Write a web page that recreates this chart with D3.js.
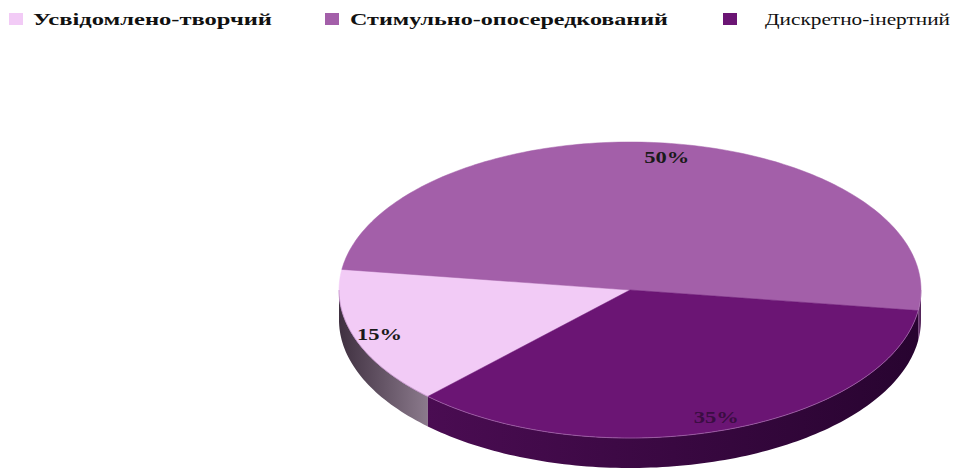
<!DOCTYPE html>
<html>
<head>
<meta charset="utf-8">
<script src="https://d3js.org/d3.v7.min.js"></script>
<style>
  body { margin: 0; background: #fff; }
  text { font-family: "Liberation Serif", "DejaVu Serif", serif; }
</style>
</head>
<body>
<script>
  // data
  const categories = ["Усвідомлено-творчий", "Стимульно-опосередкований", "Дискретно-інертний"];
  const values = [15, 50, 35];
  const labels = ["15%", "50%", "35%"];

  const topColors = ["#f2cbf6", "#a35fa9", "#6b1574"];
  const sideLight = ["#8b7a8c", "#7a3f80", "#4a0c52"];
  const sideDark = ["#3f3040", "#4c1f52", "#280430"];
  const labelColors = ["#1a1a1a", "#1a1a1a", "#3a0d42"];

  const width = 953, height = 475;
  const cx = 630, cy = 290, rx = 291, ry = 148, depth = 30;

  const svg = d3.select("body").append("svg")
    .attr("width", width)
    .attr("height", height);

  const defs = svg.append("defs");

  // legend (the original is stretched horizontally, so text widths are fixed)
  const legendX = [9, 325, 723];
  const legendTextX = [33, 350, 765];
  const legendTextW = [239, 318, 185];
  const legendBold = [true, true, false];
  const legend = svg.append("g");
  categories.forEach((c, i) => {
    legend.append("rect")
      .attr("x", legendX[i]).attr("y", 13)
      .attr("width", 14).attr("height", 12)
      .attr("fill", topColors[i]);
    legend.append("text")
      .attr("x", legendTextX[i]).attr("y", 25)
      .attr("font-size", 17)
      .attr("font-weight", legendBold[i] ? "bold" : "normal")
      .attr("textLength", legendTextW[i])
      .attr("lengthAdjust", "spacingAndGlyphs")
      .attr("fill", "#111")
      .text(c);
  });

  // pie layout, angles like d3 (clockwise from 12 o'clock)
  const pie = d3.pie().sort(null)
    .startAngle(-136 * Math.PI / 180)
    .endAngle((360 - 136) * Math.PI / 180);
  const arcs = pie(values);

  const px = a => cx + rx * Math.sin(a);
  const py = a => cy - ry * Math.cos(a);

  function edgePoints(a0, a1) {
    const n = Math.max(2, Math.ceil(Math.abs(a1 - a0) / 0.02));
    return d3.range(n + 1).map(k => a0 + (a1 - a0) * k / n);
  }

  // side walls (front half only: angles 90..270 deg)
  const lo = Math.PI / 2, hi = 3 * Math.PI / 2;
  const sideG = svg.append("g");
  arcs.forEach((d, i) => {
    let a0 = d.startAngle, a1 = d.endAngle;
    const segs = [];
    [[a0, a1], [a0 + 2 * Math.PI, a1 + 2 * Math.PI], [a0 - 2 * Math.PI, a1 - 2 * Math.PI]].forEach(([s, e]) => {
      const s2 = Math.max(s, lo), e2 = Math.min(e, hi);
      if (e2 > s2) segs.push([s2, e2]);
    });
    segs.forEach(([s, e], j) => {
      const gid = "side" + i + "_" + j;
      const g = defs.append("linearGradient").attr("id", gid)
        .attr("gradientUnits", "userSpaceOnUse")
        .attr("x1", Math.min(px(s), px(e))).attr("x2", Math.max(px(s), px(e)))
        .attr("y1", 0).attr("y2", 0);
      const leftLit = i === 0;
      g.append("stop").attr("offset", "0%").attr("stop-color", leftLit ? sideDark[i] : sideLight[i]);
      g.append("stop").attr("offset", "100%").attr("stop-color", leftLit ? sideLight[i] : sideDark[i]);
      const pts = edgePoints(s, e);
      const top = pts.map(a => [px(a), py(a)]);
      const bot = pts.slice().reverse().map(a => [px(a), py(a) + depth]);
      sideG.append("path")
        .attr("d", d3.line()(top.concat(bot)) + "Z")
        .attr("fill", "url(#" + gid + ")");
    });
  });

  // top faces
  const topG = svg.append("g");
  arcs.forEach((d, i) => {
    const pts = edgePoints(d.startAngle, d.endAngle).map(a => [px(a), py(a)]);
    topG.append("path")
      .attr("d", d3.line()([[cx, cy]].concat(pts)) + "Z")
      .attr("fill", topColors[i])
      .attr("stroke", topColors[i])
      .attr("stroke-width", 0.5);
  });

  // thin rim highlight along the front edge
  const rimPts = edgePoints(lo, hi).map(a => [px(a), py(a)]);
  svg.append("path")
    .attr("d", d3.line()(rimPts))
    .attr("fill", "none")
    .attr("stroke", "#b07ab8")
    .attr("stroke-opacity", 0.6)
    .attr("stroke-width", 1);

  // labels
  arcs.forEach((d, i) => {
    const m = (d.startAngle + d.endAngle) / 2;
    svg.append("text")
      .attr("x", cx + rx * 0.91 * Math.sin(m))
      .attr("y", cy - ry * 0.91 * Math.cos(m) + 6)
      .attr("text-anchor", "middle")
      .attr("font-size", 16)
      .attr("font-weight", "bold")
      .attr("textLength", 45)
      .attr("lengthAdjust", "spacingAndGlyphs")
      .attr("fill", labelColors[i])
      .text(labels[i]);
  });
</script>
</body>
</html>
